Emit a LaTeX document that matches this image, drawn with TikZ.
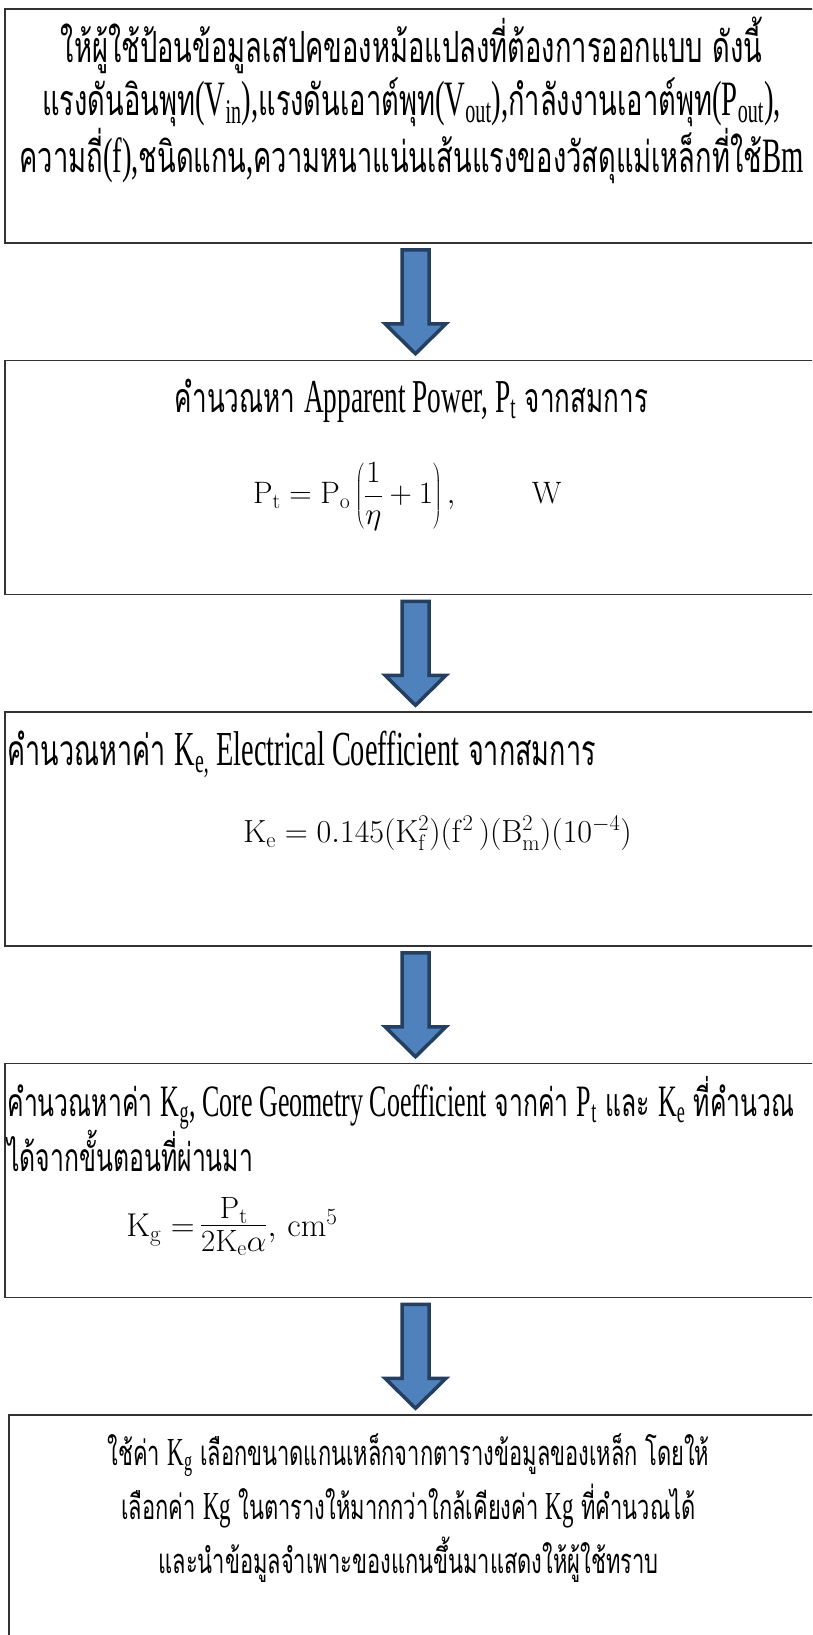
\documentclass[tikz,border=0pt]{standalone}
\usepackage{fix-cm}
\usepackage[no-math]{fontspec}
\setmainfont[FakeStretch=0.58, Scale=1.15]{Liberation Serif}
\newfontfamily\thaifont[Script=Thai,FakeStretch=0.635]{Loma}
\usetikzlibrary{positioning,calc}
\definecolor{arrowfill}{HTML}{4F81BD}
\definecolor{arrowline}{HTML}{243F60}
\newcommand\eng[1]{{\rmfamily #1}}
\newcommand\thaisize[2]{\fontsize{#1}{#2}\selectfont\thaifont}
\tikzset{
  x=1pt, y=1pt,
  stepbox/.style={draw=black!80, line width=1.5pt, minimum width=821pt, minimum height=234pt, inner sep=0pt},
  para/.style={inner sep=0pt, font=\thaisize{34.5}{54}},
  formula/.style={inner sep=0pt, font=\fontsize{31}{36}\selectfont},
  blockarrow/.style={fill=arrowfill, draw=arrowline, line width=3.5pt, line join=miter},
}

\begin{document}
\begin{tikzpicture}[node distance=116pt]
  \clip (0,0) rectangle (812,-1635);
  \useasboundingbox (0,0) rectangle (812,-1635);

  % steps
  \node[stepbox] (b1) at (415.5,-126) {};
  \node[stepbox, below=of b1] (b2) {};
  \node[stepbox, below=of b2] (b3) {};
  \node[stepbox, below=of b3] (b4) {};
  \node[stepbox, below=of b4, xshift=4pt] (b5) {};

  % texts
  \node[para, align=center, font=\thaisize{43}{53}] (t1) at ([yshift=-92pt, xshift=-4pt]b1.north)
    {ให้ผู้ใช้ป้อนข้อมูลเสปคของหม้อแปลงที่ต้องการออกแบบ ดังนี้\\
     แรงดันอินพุท\eng{(V\textsubscript{in}),}แรงดันเอาต์พุท\eng{(V\textsubscript{out}),}กำลังงานเอาต์พุท\eng{(P\textsubscript{out}),}\\
     ความถี่\eng{(f),}ชนิดแกน\eng{,}ความหนาแน่นเส้นแรงของวัสดุแม่เหล็กที่ใช้\eng{Bm}};

  \node[para, font=\thaisize{41}{52}] (t2) at ([yshift=-41pt, xshift=-4pt]b2.north)
    {คำนวณหา \eng{Apparent Power, P\textsubscript{t}} จากสมการ};
  \node[formula] (f2) at ([yshift=-137pt, xshift=-8pt]b2.north)
    {$\displaystyle\mathrm{P_t} = \mathrm{P_o}\left(\frac{1}{\eta}+1\right),\qquad \mathrm{W}$};

  \node[para, anchor=west, font=\thaisize{42.5}{52}] (t3) at ([yshift=-43pt, xshift=3pt]b3.north west)
    {คำนวณหาค่า \eng{K\textsubscript{e,} Electrical Coefficient} จากสมการ};
  \node[formula, font=\fontsize{32}{36}\selectfont] (f3) at ([yshift=-122pt, xshift=22pt]b3.north)
    {$\mathrm{K_e} = 0.145(\mathrm{K_f^2})(\mathrm{f^2}\,)(\mathrm{B_m^2})(10^{-4})$};

  \node[para, anchor=west, align=left, font=\thaisize{39}{49}] (t4) at ([yshift=-61pt, xshift=3pt]b4.north west)
    {คำนวณหาค่า \eng{K\textsubscript{g}, Core Geometry Coefficient}  จากค่า \eng{P\textsubscript{t}} และ \eng{K\textsubscript{e}} ที่คำนวณ\\
     ได้จากขั้นตอนที่ผ่านมา};
  \node[formula, anchor=west, font=\fontsize{33}{36}\selectfont] (f4) at ([yshift=-164pt, xshift=122pt]b4.north west)
    {$\mathrm{K_g} =\ ${\fontsize{44}{44}\selectfont$\frac{\mathrm{P_t}}{2\mathrm{K_e}\alpha}$}$,\ \mathrm{cm^5}$};

  \node[para, align=center] (t5) at ([yshift=-94pt, xshift=-11pt]b5.north)
    {ใช้ค่า \eng{K\textsubscript{g}} เลือกขนาดแกนเหล็กจากตารางข้อมูลของเหล็ก โดยให้\\
     เลือกค่า \eng{Kg} ในตารางให้มากกว่าใกล้เคียงค่า \eng{Kg} ที่คำนวณได้\\
     และนำข้อมูลจำเพาะของแกนขึ้นมาแสดงให้ผู้ใช้ทราบ};

  % block arrows between steps
  \foreach \a/\b in {b1/b2, b2/b3, b3/b4, b4/b5}
    \draw[blockarrow] ($(\a.south)+(-13.5,-6)$) -- ($(\a.south)+(13.5,-6)$)
      -- ($(\a.south)+(13.5,-80)$) -- ($(\a.south)+(30.5,-80)$)
      -- ($(\a.south |- \b.north)+(0,6)$)
      -- ($(\a.south)+(-30.5,-80)$) -- ($(\a.south)+(-13.5,-80)$) -- cycle;
\end{tikzpicture}
\end{document}
